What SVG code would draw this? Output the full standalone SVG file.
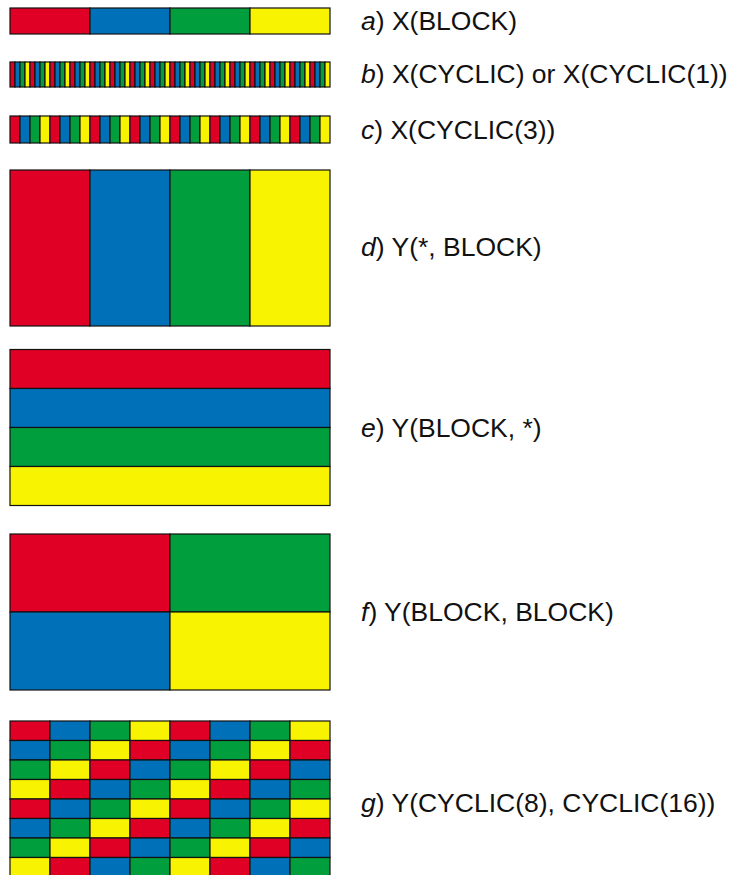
<svg xmlns="http://www.w3.org/2000/svg" xmlns:xlink="http://www.w3.org/1999/xlink" width="733" height="875" viewBox="0 0 733 875">
<style>
rect{stroke:#111;stroke-width:1.2}
.r{fill:#E00025}
.b{fill:#0071B8}
.g{fill:#009E3C}
.y{fill:#F8F300}
text{font-family:"Liberation Sans",Arial,sans-serif;font-size:26.5px;fill:#111}
.i{font-style:italic}
</style>
<defs>
<g id="s5">
<rect class="r" x="0" y="0" width="5" height="25"/>
<rect class="b" x="5" y="0" width="5" height="25"/>
<rect class="g" x="10" y="0" width="5" height="25"/>
<rect class="y" x="15" y="0" width="5" height="25"/>
</g>
<g id="s10">
<rect class="r" x="0" y="0" width="10" height="27"/>
<rect class="b" x="10" y="0" width="10" height="27"/>
<rect class="g" x="20" y="0" width="10" height="27"/>
<rect class="y" x="30" y="0" width="10" height="27"/>
</g>
<g id="row0">
<rect class="r" x="0" y="0" width="40" height="19.5"/><rect class="b" x="40" y="0" width="40" height="19.5"/><rect class="g" x="80" y="0" width="40" height="19.5"/><rect class="y" x="120" y="0" width="40" height="19.5"/>
<rect class="r" x="160" y="0" width="40" height="19.5"/><rect class="b" x="200" y="0" width="40" height="19.5"/><rect class="g" x="240" y="0" width="40" height="19.5"/><rect class="y" x="280" y="0" width="40" height="19.5"/>
</g>
<g id="row1">
<rect class="b" x="0" y="0" width="40" height="19.5"/><rect class="g" x="40" y="0" width="40" height="19.5"/><rect class="y" x="80" y="0" width="40" height="19.5"/><rect class="r" x="120" y="0" width="40" height="19.5"/>
<rect class="b" x="160" y="0" width="40" height="19.5"/><rect class="g" x="200" y="0" width="40" height="19.5"/><rect class="y" x="240" y="0" width="40" height="19.5"/><rect class="r" x="280" y="0" width="40" height="19.5"/>
</g>
<g id="row2">
<rect class="g" x="0" y="0" width="40" height="19.5"/><rect class="y" x="40" y="0" width="40" height="19.5"/><rect class="r" x="80" y="0" width="40" height="19.5"/><rect class="b" x="120" y="0" width="40" height="19.5"/>
<rect class="g" x="160" y="0" width="40" height="19.5"/><rect class="y" x="200" y="0" width="40" height="19.5"/><rect class="r" x="240" y="0" width="40" height="19.5"/><rect class="b" x="280" y="0" width="40" height="19.5"/>
</g>
<g id="row3">
<rect class="y" x="0" y="0" width="40" height="19.5"/><rect class="r" x="40" y="0" width="40" height="19.5"/><rect class="b" x="80" y="0" width="40" height="19.5"/><rect class="g" x="120" y="0" width="40" height="19.5"/>
<rect class="y" x="160" y="0" width="40" height="19.5"/><rect class="r" x="200" y="0" width="40" height="19.5"/><rect class="b" x="240" y="0" width="40" height="19.5"/><rect class="g" x="280" y="0" width="40" height="19.5"/>
</g>
</defs>

<g id="panel-a">
<rect class="r" x="10" y="8" width="80" height="26"/>
<rect class="b" x="90" y="8" width="80" height="26"/>
<rect class="g" x="170" y="8" width="80" height="26"/>
<rect class="y" x="250" y="8" width="80" height="26"/>
<text x="361" y="30"><tspan class="i">a</tspan>) X(BLOCK)</text>
</g>

<g id="panel-b">
<use href="#s5" x="10" y="62"/><use href="#s5" x="30" y="62"/><use href="#s5" x="50" y="62"/><use href="#s5" x="70" y="62"/>
<use href="#s5" x="90" y="62"/><use href="#s5" x="110" y="62"/><use href="#s5" x="130" y="62"/><use href="#s5" x="150" y="62"/>
<use href="#s5" x="170" y="62"/><use href="#s5" x="190" y="62"/><use href="#s5" x="210" y="62"/><use href="#s5" x="230" y="62"/>
<use href="#s5" x="250" y="62"/><use href="#s5" x="270" y="62"/><use href="#s5" x="290" y="62"/><use href="#s5" x="310" y="62"/>
<text x="361" y="83"><tspan class="i">b</tspan>) X(CYCLIC) or X(CYCLIC(1))</text>
</g>

<g id="panel-c">
<use href="#s10" x="10" y="116"/><use href="#s10" x="50" y="116"/><use href="#s10" x="90" y="116"/><use href="#s10" x="130" y="116"/>
<use href="#s10" x="170" y="116"/><use href="#s10" x="210" y="116"/><use href="#s10" x="250" y="116"/><use href="#s10" x="290" y="116"/>
<text x="361" y="139"><tspan class="i">c</tspan>) X(CYCLIC(3))</text>
</g>

<g id="panel-d">
<rect class="r" x="10" y="170" width="80" height="156"/>
<rect class="b" x="90" y="170" width="80" height="156"/>
<rect class="g" x="170" y="170" width="80" height="156"/>
<rect class="y" x="250" y="170" width="80" height="156"/>
<text x="361" y="256"><tspan class="i">d</tspan>) Y(*, BLOCK)</text>
</g>

<g id="panel-e">
<rect class="r" x="10" y="349.5" width="320" height="39"/>
<rect class="b" x="10" y="388.5" width="320" height="39"/>
<rect class="g" x="10" y="427.5" width="320" height="39"/>
<rect class="y" x="10" y="466.5" width="320" height="39"/>
<text x="361" y="437"><tspan class="i">e</tspan>) Y(BLOCK, *)</text>
</g>

<g id="panel-f">
<rect class="r" x="10" y="534" width="160" height="78"/>
<rect class="g" x="170" y="534" width="160" height="78"/>
<rect class="b" x="10" y="612" width="160" height="78"/>
<rect class="y" x="170" y="612" width="160" height="78"/>
<text x="361" y="621"><tspan class="i">f</tspan>) Y(BLOCK, BLOCK)</text>
</g>

<g id="panel-g">
<use href="#row0" x="10" y="721"/>
<use href="#row1" x="10" y="740.5"/>
<use href="#row2" x="10" y="760"/>
<use href="#row3" x="10" y="779.5"/>
<use href="#row0" x="10" y="799"/>
<use href="#row1" x="10" y="818.5"/>
<use href="#row2" x="10" y="838"/>
<use href="#row3" x="10" y="857.5"/>
<text x="361" y="812"><tspan class="i">g</tspan>) Y(CYCLIC(8), CYCLIC(16))</text>
</g>
</svg>
